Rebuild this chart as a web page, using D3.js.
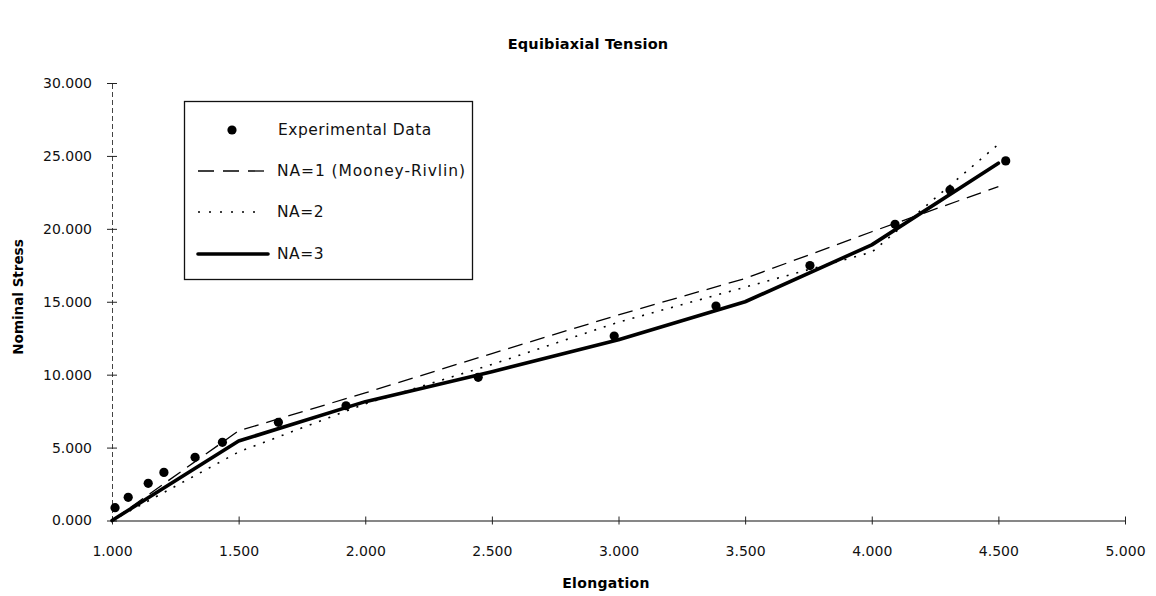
<!DOCTYPE html>
<html>
<head>
<meta charset="utf-8">
<script src="https://cdn.jsdelivr.net/npm/d3@7"></script>
<style>
  html, body { margin: 0; padding: 0; background: #fff; }
  svg { display: block; }
</style>
</head>
<body>
<svg id="chart" width="1156" height="596"></svg>
<script>
// ---- data ----
const chartTitle = "Equibiaxial Tension";
const xAxisTitle = "Elongation";
const yAxisTitle = "Nominal Stress";

const expElongation = [1.012, 1.064, 1.143, 1.205, 1.328, 1.436, 1.657, 1.924, 2.446, 2.983, 3.385, 3.756, 4.092, 4.309, 4.529];
const expStress     = [0.88, 1.59, 2.55, 3.30, 4.33, 5.36, 6.73, 7.87, 9.82, 12.65, 14.71, 17.48, 20.31, 22.67, 24.66];

const modelElongation = [1.0, 1.5, 2.0, 2.5, 3.0, 3.5, 4.0, 4.5];
const stressNA1 = [0, 6.15, 8.75, 11.45, 14.1, 16.6, 19.8, 22.9];
const stressNA2 = [0, 4.7, 8.0, 10.7, 13.6, 16.0, 18.4, 25.8];
const stressNA3 = [0, 5.45, 8.15, 10.2, 12.4, 15.0, 18.9, 24.5];

const xTickValues = [1.0, 1.5, 2.0, 2.5, 3.0, 3.5, 4.0, 4.5, 5.0];
const yTickValues = [0, 5, 10, 15, 20, 25, 30];

const legendLabels = ["Experimental Data", "NA=1 (Mooney-Rivlin)", "NA=2", "NA=3"];

// ---- drawing ----
const svg = d3.select("#chart");
const FONT = "'DejaVu Sans', sans-serif";

const x = d3.scaleLinear().domain([1, 5]).range([112, 1125]);
const y = d3.scaleLinear().domain([0, 30]).range([520.5, 83]);

// title
svg.append("text")
  .attr("x", 588).attr("y", 49)
  .attr("text-anchor", "middle")
  .attr("font-family", FONT).attr("font-weight", "bold").attr("font-size", 14.5)
  .attr("letter-spacing", 0.2)
  .text(chartTitle);

// y axis
const yAxis = d3.axisLeft(y).tickValues(yTickValues).tickFormat(d3.format(".3f"))
  .tickSize(0).tickPadding(20);
const gy = svg.append("g").attr("transform", `translate(${x(1)},0)`).call(yAxis);
gy.select(".domain").attr("stroke", "#444").attr("stroke-width", 1).attr("stroke-dasharray", "5,3");
gy.selectAll(".tick text").attr("font-family", FONT).attr("font-size", 14).attr("fill", "#111");
gy.selectAll(".tick").append("line").attr("x1", -5).attr("x2", 5).attr("stroke", "#222").attr("stroke-width", 1);

// x axis
const xAxis = d3.axisBottom(x).tickValues(xTickValues).tickFormat(d3.format(".3f"))
  .tickSize(0).tickPadding(26);
const gx = svg.append("g").attr("transform", `translate(0,${y(0)})`).call(xAxis);
gx.select(".domain").attr("stroke", "#111").attr("stroke-width", 1.2);
gx.selectAll(".tick text").attr("font-family", FONT).attr("font-size", 14).attr("fill", "#111");
gx.selectAll(".tick").append("line").attr("y1", -4).attr("y2", 4).attr("stroke", "#222").attr("stroke-width", 1);

// axis titles
svg.append("text")
  .attr("x", 606).attr("y", 588)
  .attr("text-anchor", "middle")
  .attr("font-family", FONT).attr("font-weight", "bold").attr("font-size", 14)
  .attr("letter-spacing", 0.3)
  .text(xAxisTitle);
svg.append("text")
  .attr("transform", "translate(23,297) rotate(-90)")
  .attr("text-anchor", "middle")
  .attr("font-family", FONT).attr("font-weight", "bold").attr("font-size", 13.5)
  .text(yAxisTitle);

// model lines
const line = d3.line().x(d => x(d[0])).y(d => y(d[1]));
const series = [
  { vals: stressNA1, width: 1.3, dash: "15,8", cap: "butt" },
  { vals: stressNA2, width: 1.6, dash: "2,8", cap: "butt" },
  { vals: stressNA3, width: 3.6, dash: null, cap: "round" }
];
series.forEach(s => {
  svg.append("path")
    .datum(modelElongation.map((e, i) => [e, s.vals[i]]))
    .attr("d", line)
    .attr("fill", "none")
    .attr("stroke", "#000")
    .attr("stroke-width", s.width)
    .attr("stroke-linecap", s.cap)
    .attr("stroke-linejoin", "round")
    .attr("stroke-dasharray", s.dash);
});

// experimental points
svg.append("g").selectAll("circle")
  .data(expElongation.map((e, i) => [e, expStress[i]]))
  .join("circle")
  .attr("cx", d => x(d[0])).attr("cy", d => y(d[1]))
  .attr("r", 4.6).attr("fill", "#000");

// legend
const lg = svg.append("g");
lg.append("rect").attr("x", 184.5).attr("y", 101.5).attr("width", 288).attr("height", 178)
  .attr("fill", "#fff").attr("stroke", "#111").attr("stroke-width", 1.3);
const rowY = [130, 171, 212, 254];
lg.append("circle").attr("cx", 232).attr("cy", rowY[0]).attr("r", 4.6).attr("fill", "#000");
lg.append("line").attr("x1", 198).attr("x2", 266).attr("y1", rowY[1]).attr("y2", rowY[1])
  .attr("stroke", "#000").attr("stroke-width", 1.3).attr("stroke-dasharray", "16,9");
lg.append("line").attr("x1", 198).attr("x2", 262).attr("y1", rowY[2]).attr("y2", rowY[2])
  .attr("stroke", "#000").attr("stroke-width", 1.6).attr("stroke-dasharray", "2,9");
lg.append("line").attr("x1", 198).attr("x2", 268).attr("y1", rowY[3]).attr("y2", rowY[3])
  .attr("stroke", "#000").attr("stroke-width", 3.6).attr("stroke-linecap", "round");
legendLabels.forEach((t, i) => {
  lg.append("text")
    .attr("x", i === 0 ? 278 : 277).attr("y", rowY[i]).attr("dy", "0.35em")
    .attr("font-family", FONT).attr("font-size", 15.5).attr("fill", "#111")
    .attr("letter-spacing", i === 1 ? 0.9 : 0.5)
    .text(t);
});
</script>
</body>
</html>
